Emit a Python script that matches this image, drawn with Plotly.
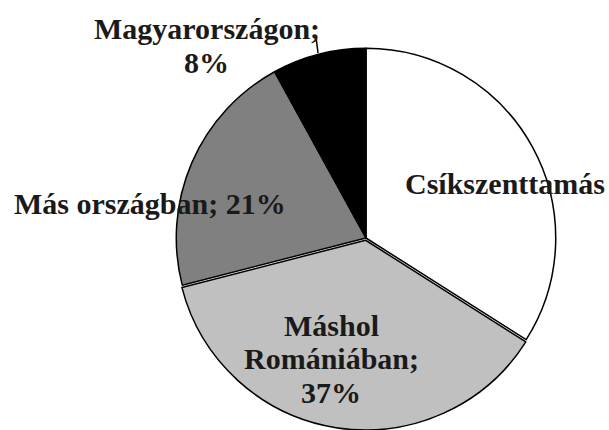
import plotly.graph_objects as go

labels = ["Csíkszenttamás", "Máshol Romániában", "Más országban", "Magyarországon"]
values = [34, 37, 21, 8]
colors = ["#ffffff", "#c0c0c0", "#808080", "#000000"]
pulls = [0, 0.012, 0, 0]

# label lines (text, x px, baseline y px, anchor)
label_lines = [
    ("Magyarországon;", 207, 38, "center"),
    ("8%", 207, 72, "center"),
    ("Csíkszenttamás", 403, 193, "left"),
    ("Más országban; 21%", 12, 213, "left"),
    ("Máshol", 331, 335, "center"),
    ("Romániában;", 331, 368, "center"),
    ("37%", 331, 402, "center"),
]

W, H = 609, 430
T, B = 46, 0
PH = H - T - B
FS = 30


def py(y_px):
    return (H - B - y_px) / PH


fig = go.Figure(go.Pie(
    labels=labels, values=values, sort=False, direction="clockwise", rotation=0,
    marker=dict(colors=colors, line=dict(color="#000000", width=1.5)),
    pull=pulls, textinfo="none", hoverinfo="label+percent",
    domain=dict(x=[(366 - 200) / W, (366 + 200) / W], y=[0, 1]),
    showlegend=False,
))

for text, x, base, anchor in label_lines:
    fig.add_annotation(
        text=text, x=x / W, y=py(base - 0.33 * FS),
        xref="paper", yref="paper", xanchor=anchor, yanchor="middle",
        showarrow=False,
        font=dict(family="Liberation Serif", size=FS, color="#1a1a1a", weight="bold"),
    )

fig.add_shape(type="line", xref="paper", yref="paper",
              x0=318 / W, y0=py(53), x1=316 / W, y1=py(37),
              line=dict(color="#000000", width=1.5))

fig.update_layout(
    width=W, height=H,
    margin=dict(l=0, r=0, t=T, b=B),
    paper_bgcolor="#ffffff", plot_bgcolor="#ffffff",
)

fig.write_html("out.html", config={"displayModeBar": False},
               post_script="document.body.style.margin='0';document.body.style.overflow='hidden';")
